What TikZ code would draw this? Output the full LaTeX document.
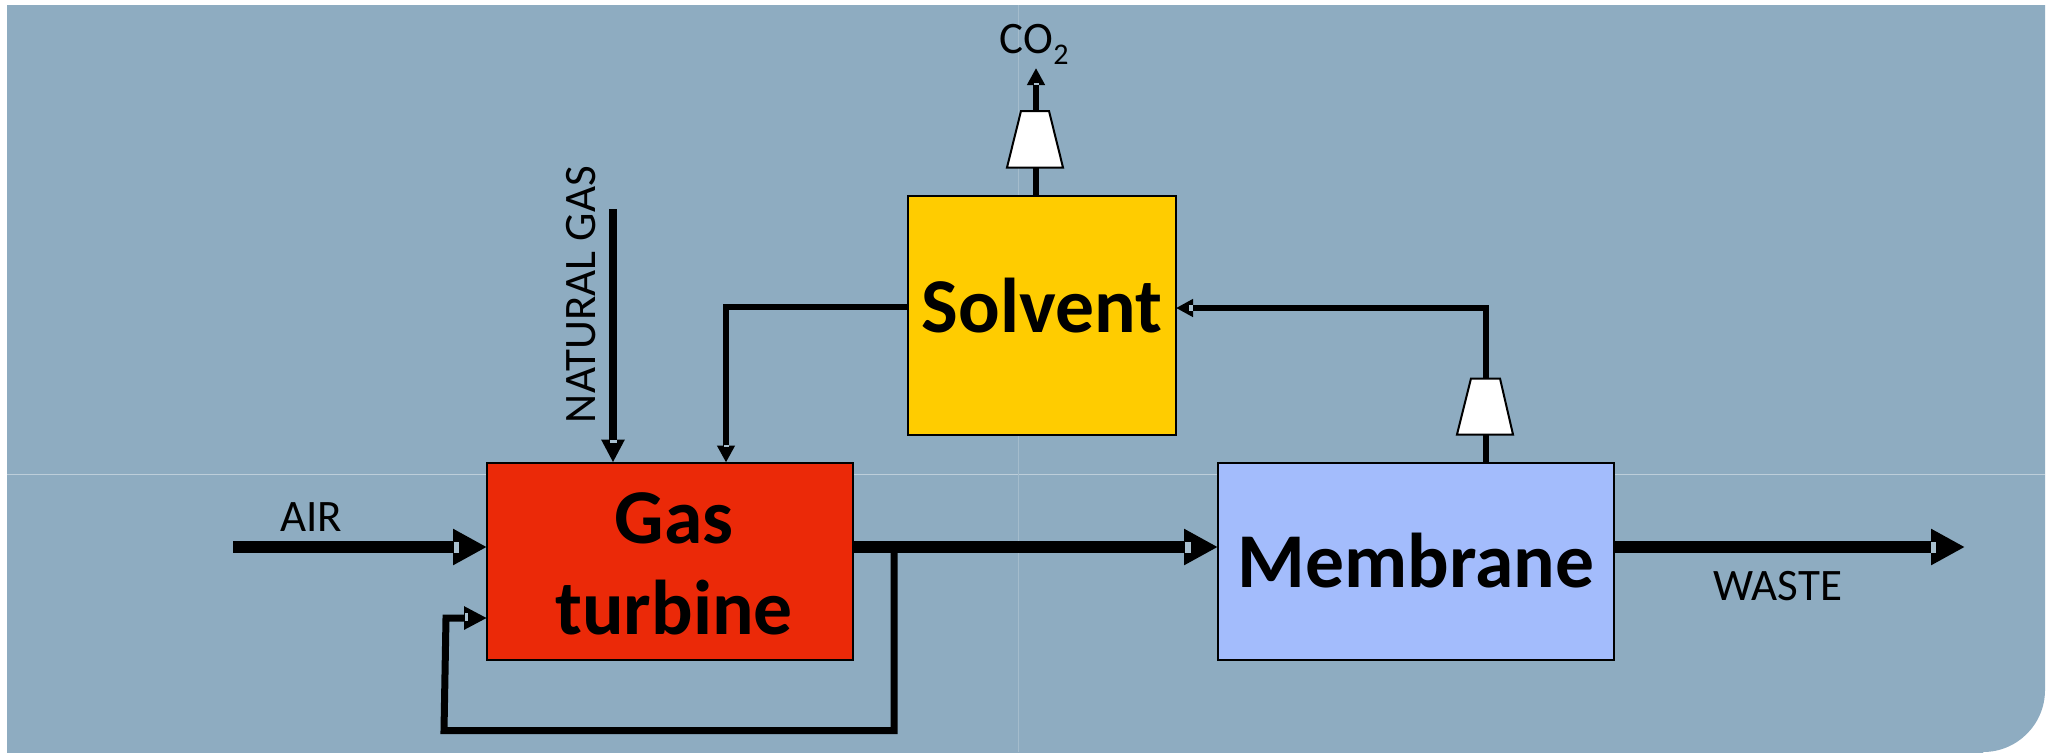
\documentclass[tikz,border=0pt]{standalone}
\usepackage{fontspec}
\setmainfont{Carlito}
\usetikzlibrary{arrows.meta,calc}
\definecolor{bgblue}{HTML}{8EACC1}
\definecolor{gridline}{HTML}{BDCEDA}
\definecolor{gridlinev}{HTML}{A4BCCC}
\definecolor{notchc}{HTML}{A9C0CF}
\definecolor{turbred}{HTML}{EB2908}
\definecolor{solvyellow}{HTML}{FFCC00}
\definecolor{membblue}{HTML}{A3BCFC}
\newcommand{\nudged}[3]{\raisebox{#2}[\height][\depth]{\hspace*{#1}#3\hspace*{-#1}}}
\tikzset{
  boxnode/.style={draw=black,line width=1pt,inner sep=0pt,outer sep=0pt,align=center,font=\fontsize{38.8}{46}\selectfont\bfseries},
  lab/.style={inner sep=0pt,font=\fontsize{22.5}{26}\selectfont,anchor=base},
  bigflow/.style={line width=6pt,-{Triangle[length=17pt,width=17pt]}},
  ngflow/.style={line width=4pt,-{Triangle[length=11.5pt,width=11pt]}},
  midflow/.style={line width=3.5pt,line join=miter,-{Triangle[length=11.5pt,width=11pt]}},
  thinflow/.style={line width=3pt,line join=miter,-{Triangle[length=8.5pt,width=8.5pt]}},
  comp/.style={draw=black,fill=white,line width=1pt,line join=miter},
  notch/.style={fill=notchc,draw=none}
}
\begin{document}
\begin{tikzpicture}[x=0.5pt,y=-0.5pt]
\useasboundingbox (0,0) rectangle (2051,752);
% background panel
\fill[white] (0,0) rectangle (2051,752);
\fill[bgblue] (7,5) -- (2045,5) -- (2045,690) arc[start angle=0,end angle=90,radius=62] -- (1983,754) -- (7,754) -- cycle;
\draw[gridline,line width=0.5pt] (7,474) -- (2045,474);
\draw[gridlinev,line width=0.4pt] (1018,5) -- (1018,752);
% process blocks
\node[boxnode,fill=turbred,minimum width=183pt,minimum height=98.5pt] (turb) at (670,561) {\nudged{2pt}{-1.5pt}{Gas}\\[-0.5pt]\nudged{2pt}{-1.5pt}{turbine}};
\node[boxnode,fill=solvyellow,minimum width=134pt,minimum height=119.5pt] (solv) at (1042,315) {\nudged{0pt}{4.5pt}{Solvent}};
\node[boxnode,fill=membblue,minimum width=198pt,minimum height=98.5pt] (memb) at (1416,561) {Membrane};
% labels
\node[lab] (airlab) at (311,531) {AIR};
\node[lab] (wastelab) at (1778,600) {WASTE};
\node[lab,rotate=90] (nglab) at (595,294.5) {NATURAL GAS};
\node[lab,anchor=base west] (colab) at (999,53) {CO\hspace{0.3pt}\raisebox{-5.5pt}{\fontsize{15}{18}\selectfont 2}};
% free ends and bends
\coordinate (airstart) at (233,547);
\coordinate (wasteend) at (1965,547);
\coordinate (ngstart) at (613,209);
\coordinate (coend) at (1036,68);
\coordinate (solvout) at (726,307);
\coordinate (membbend) at (1486,308);
\coordinate (recjunction) at (894,547);
\coordinate (reccornerA) at (894,730.5);
\coordinate (reccornerB) at (444,730.5);
\coordinate (reccornerC) at (446,618);
% connectors
\draw[bigflow] (airstart) -- (airstart -| turb.west);
\draw[bigflow] (airstart -| turb.east) -- (airstart -| memb.west);
\draw[bigflow] (airstart -| memb.east) -- (wasteend);
\draw[ngflow] (ngstart) -- (ngstart |- turb.north);
\draw[midflow] (recjunction) -- (reccornerA) -- (reccornerB) -- (reccornerC) -- (reccornerC -| turb.west);
\draw[thinflow] (solvout -| solv.west) -- (solvout) -- (solvout |- turb.north);
\draw[thinflow] (membbend |- memb.north) -- (membbend) -- (membbend -| solv.east);
\draw[thinflow,line width=3.2pt] (coend |- solv.north) -- (coend);
% compressors
\filldraw[comp] (1021,111) -- (1049,111) -- (1063,167.5) -- (1007,167.5) -- cycle;
\filldraw[comp] (1471,378.5) -- (1500,378.5) -- (1513,434.5) -- (1457,434.5) -- cycle;
% small gaps at the arrowhead bases
\fill[notch] (453.5,542) rectangle (459,553);
\fill[notch] (1184.5,542) rectangle (1191,553);
\fill[notch] (1931,542) rectangle (1936,553);
\fill[notch] (464.5,613) rectangle (467.5,621);
\fill[notch] (610,440) rectangle (617,443);
\fill[notch] (724,445) rectangle (729,447);
\fill[notch] (1189,305) rectangle (1193,311);
\fill[notch] (1033.5,83) rectangle (1039,85);
\end{tikzpicture}
\end{document}
